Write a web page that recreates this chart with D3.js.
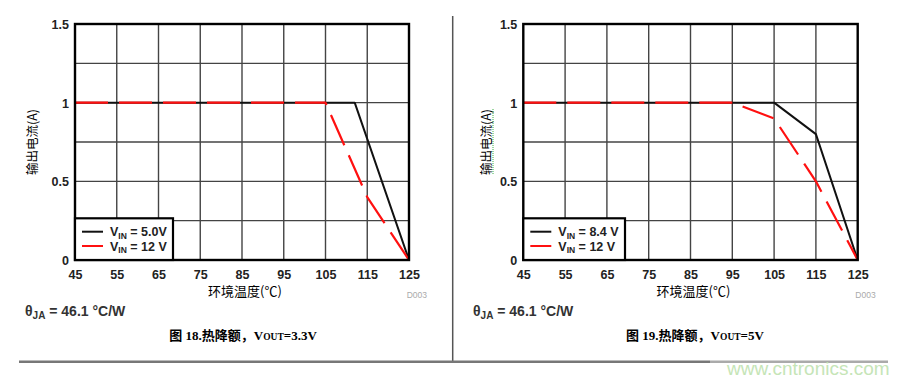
<!DOCTYPE html>
<html>
<head>
<meta charset="utf-8">
<script src="https://cdn.jsdelivr.net/npm/d3@7"></script>
<style>
  html, body { margin: 0; padding: 0; background: #fff; }
  svg { display: block; }
</style>
</head>
<body>
<svg id="chart" width="911" height="382"></svg>
<script>
// ---------- data ----------
const xTicks = [45, 55, 65, 75, 85, 95, 105, 115, 125];
const yTicks = [0, 0.5, 1, 1.5];
const yGrid = [0.25, 0.5, 0.75, 1, 1.25];

// Figure 18 (VOUT = 3.3V)
const fig18Temp5V = [45, 112, 125];
const fig18Curr5V = [1, 1, 0];
const fig18Temp12V = [45, 105, 115, 125];
const fig18Curr12V = [1, 1, 0.4, 0];
const fig18Legend = ["5.0V", "12 V"];

// Figure 19 (VOUT = 5V)
const fig19Temp8V = [45, 105, 115, 125];
const fig19Curr8V = [1, 1, 0.8, 0];
const fig19Temp12V = [45, 95, 105, 115, 125];
const fig19Curr12V = [1, 1, 0.9, 0.5, 0];
const fig19Legend = ["8.4 V", "12 V"];

const xTitle = "环境温度(℃)";
const yTitle = "输出电流(A)";
const thetaText = " = 46.1 °C/W";

// ---------- drawing ----------
const svg = d3.select("#chart");
const sansFont = "'Liberation Sans', Arial, 'Noto Sans CJK SC', sans-serif";
const cjkFont = "'Noto Sans CJK SC', sans-serif";

function drawChart(cfg) {
  const x = d3.scaleLinear().domain([45, 125]).range([cfg.left, cfg.right]);
  const y = d3.scaleLinear().domain([0, 1.5]).range([260, 24]);
  const g = svg.append("g");

  // grid
  g.selectAll(".vg").data(xTicks.slice(1, -1)).enter().append("line")
    .attr("x1", d => x(d)).attr("x2", d => x(d))
    .attr("y1", y(0)).attr("y2", y(1.5))
    .attr("stroke", "#444").attr("stroke-width", 1.4);
  g.selectAll(".hg").data(yGrid).enter().append("line")
    .attr("x1", x(45)).attr("x2", x(125))
    .attr("y1", d => y(d)).attr("y2", d => y(d))
    .attr("stroke", "#444").attr("stroke-width", 1.4);

  // series
  const line = d3.line().x(d => x(d[0])).y(d => y(d[1]));
  const s1 = cfg.t1.map((t, i) => [t, cfg.c1[i]]);
  const s2 = cfg.t2.map((t, i) => [t, cfg.c2[i]]);
  g.append("path").attr("d", line(s1)).attr("fill", "none")
    .attr("stroke", "#111").attr("stroke-width", 2).attr("stroke-linejoin", "round");
  g.append("path").attr("d", line(s2)).attr("fill", "none")
    .attr("stroke", "#ff1010").attr("stroke-width", 2.2)
    .attr("stroke-dasharray", "33,11").attr("stroke-linejoin", "round");

  // frame
  g.append("rect").attr("x", x(45)).attr("y", y(1.5))
    .attr("width", x(125) - x(45)).attr("height", y(0) - y(1.5))
    .attr("fill", "none").attr("stroke", "#000").attr("stroke-width", 2.4);

  // axes (tick labels only)
  const xAxis = d3.axisBottom(x).tickValues(xTicks).tickSize(0).tickPadding(0);
  const xa = g.append("g").attr("transform", `translate(0,${y(0)})`).call(xAxis);
  xa.select(".domain").remove();
  xa.selectAll("text").attr("y", 18.5).attr("dy", 0)
    .attr("font-family", sansFont).attr("font-size", 12.5).attr("font-weight", "bold")
    .attr("fill", "#222");

  const yAxis = d3.axisLeft(y).tickValues(yTicks).tickSize(0).tickPadding(0)
    .tickFormat(d3.format("~g"));
  const ya = g.append("g").attr("transform", `translate(${x(45)},0)`).call(yAxis);
  ya.select(".domain").remove();
  ya.selectAll("text").attr("x", -6).attr("dy", "0.35em")
    .attr("font-family", sansFont).attr("font-size", 12.5).attr("font-weight", "bold")
    .attr("fill", "#222");

  // legend
  const lg = g.append("g");
  lg.append("rect").attr("x", x(45)).attr("y", 218.3)
    .attr("width", cfg.legendW).attr("height", y(0) - 218.3)
    .attr("fill", "#fff").attr("stroke", "#000").attr("stroke-width", 2.2);
  const items = [{ c: "#111", label: cfg.legend[0], yy: 231.7 },
                 { c: "#ff1010", label: cfg.legend[1], yy: 246 }];
  items.forEach(it => {
    lg.append("line").attr("x1", x(45) + 7).attr("x2", x(45) + 28)
      .attr("y1", it.yy).attr("y2", it.yy)
      .attr("stroke", it.c).attr("stroke-width", 2);
    const t = lg.append("text").attr("x", x(45) + 35).attr("y", it.yy + 4.6)
      .attr("font-family", sansFont).attr("font-size", 12.5).attr("font-weight", "bold")
      .attr("fill", "#222");
    t.append("tspan").text("V");
    t.append("tspan").attr("font-size", 8.5).attr("dy", 2.5).text("IN");
    t.append("tspan").attr("dy", -2.5).text(" = " + it.label);
  });

  // titles
  g.append("text").attr("x", (cfg.left + cfg.right) / 2 + 3).attr("y", 295.5)
    .attr("text-anchor", "middle").attr("font-family", cjkFont).attr("font-size", 13)
    .attr("fill", "#000").text(xTitle);
  g.append("text").attr("transform", `translate(${cfg.ytX},142) rotate(-90)`)
    .attr("text-anchor", "middle").attr("dy", "0.35em")
    .attr("font-family", cjkFont).attr("font-size", 12.5).attr("fill", "#000").text(yTitle);
  if (cfg.squiggle) {
    g.append("line").attr("x1", cfg.ytX + 6.5).attr("x2", cfg.ytX + 6.5)
      .attr("y1", 109).attr("y2", 175)
      .attr("stroke", "#3cb043").attr("stroke-width", 1).attr("stroke-dasharray", "1,1");
  }

  // D003
  g.append("text").attr("x", cfg.right + 18).attr("y", 298).attr("text-anchor", "end")
    .attr("font-family", sansFont).attr("font-size", 8.5).attr("fill", "#aaa").text("D003");

  // theta
  const th = g.append("text").attr("x", cfg.thetaX).attr("y", 316)
    .attr("font-family", sansFont).attr("font-size", 14).attr("font-weight", "bold")
    .attr("fill", "#333");
  th.append("tspan").text("θ");
  th.append("tspan").attr("font-size", 10).attr("dy", 3).text("JA");
  th.append("tspan").attr("dy", -3).text(thetaText);

  // caption
  const cap = g.append("text").attr("x", cfg.capX).attr("y", 340).attr("text-anchor", "middle")
    .attr("font-family", "'Liberation Serif', 'Noto Sans CJK SC', serif")
    .attr("font-size", 13).attr("font-weight", "bold").attr("fill", "#000");
  cap.append("tspan").text(cfg.capPre);
  cap.append("tspan").attr("font-size", 9.5).text("OUT");
  cap.append("tspan").text(cfg.capPost);
}

drawChart({
  left: 75, right: 409, t1: fig18Temp5V, c1: fig18Curr5V, t2: fig18Temp12V, c2: fig18Curr12V,
  legend: fig18Legend, legendW: 98, ytX: 33, squiggle: false, thetaX: 25,
  capX: 243, capPre: "图 18.热降额，V", capPost: "=3.3V"
});
drawChart({
  left: 523.3, right: 857.7, t1: fig19Temp8V, c1: fig19Curr8V, t2: fig19Temp12V, c2: fig19Curr12V,
  legend: fig19Legend, legendW: 101.7, ytX: 486.5, squiggle: true, thetaX: 473,
  capX: 695, capPre: "图 19.热降额，V", capPost: "=5V"
});

// separators
svg.append("line").attr("x1", 452.7).attr("x2", 452.7).attr("y1", 16).attr("y2", 363)
  .attr("stroke", "#555").attr("stroke-width", 1.5);
svg.append("line").attr("x1", 19).attr("x2", 710).attr("y1", 361.7).attr("y2", 361.7)
  .attr("stroke", "#777").attr("stroke-width", 2.5);
svg.append("line").attr("x1", 710).attr("x2", 888).attr("y1", 361.7).attr("y2", 361.7)
  .attr("stroke", "#aaa").attr("stroke-width", 2.5);

// watermark
svg.append("text").attr("x", 727).attr("y", 375)
  .attr("font-family", sansFont).attr("font-size", 19).attr("fill", "#bfe3b0")
  .attr("opacity", 0.9).text("www.cntronics.com");
</script>
</body>
</html>
